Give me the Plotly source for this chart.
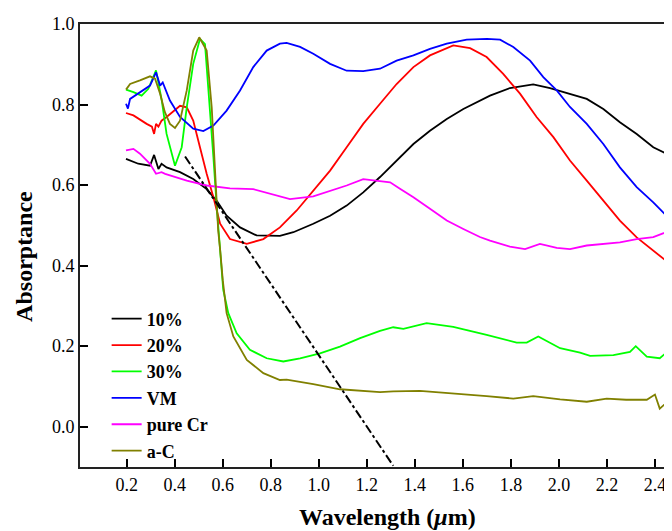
import plotly.graph_objects as go

# ---- data ----
x_10 = [0.197,0.248,0.297,0.314,0.332,0.345,0.366,0.422,0.477,0.533,0.575,0.616,0.672,0.741,0.838,0.894,0.977,1.047,1.116,1.185,1.255,1.324,1.394,1.463,1.533,1.602,1.671,1.713,1.796,1.893,1.963,2.046,2.116,2.185,2.254,2.324,2.393,2.440,2.450,2.455,2.463,2.471]
y_10 = [0.665,0.653,0.648,0.675,0.640,0.653,0.644,0.632,0.615,0.590,0.561,0.524,0.495,0.475,0.474,0.483,0.504,0.524,0.549,0.582,0.620,0.661,0.702,0.735,0.764,0.789,0.810,0.822,0.841,0.850,0.841,0.827,0.814,0.789,0.756,0.727,0.694,0.680,0.690,0.645,0.665,0.675]

x_20 = [0.197,0.228,0.283,0.305,0.314,0.322,0.332,0.345,0.366,0.422,0.450,0.477,0.505,0.533,0.561,0.589,0.630,0.700,0.769,0.838,0.908,0.977,1.047,1.116,1.185,1.255,1.324,1.394,1.463,1.560,1.630,1.699,1.768,1.838,1.907,1.977,2.046,2.116,2.185,2.254,2.324,2.393,2.440,2.463,2.471]
y_20 = [0.779,0.773,0.752,0.745,0.727,0.752,0.745,0.760,0.769,0.797,0.793,0.760,0.694,0.628,0.570,0.504,0.466,0.454,0.466,0.495,0.537,0.586,0.636,0.694,0.752,0.802,0.851,0.893,0.922,0.947,0.940,0.918,0.876,0.827,0.769,0.719,0.661,0.611,0.561,0.512,0.470,0.437,0.415,0.400,0.420]

x_30 = [0.197,0.228,0.262,0.290,0.322,0.346,0.366,0.401,0.429,0.450,0.477,0.505,0.526,0.547,0.561,0.575,0.589,0.602,0.623,0.658,0.713,0.783,0.852,0.922,1.005,1.088,1.172,1.255,1.310,1.352,1.449,1.560,1.699,1.824,1.866,1.914,2.005,2.088,2.130,2.227,2.296,2.320,2.366,2.420,2.450,2.471]
y_30 = [0.837,0.831,0.822,0.839,0.885,0.810,0.727,0.648,0.694,0.793,0.901,0.963,0.950,0.793,0.669,0.545,0.440,0.340,0.282,0.232,0.191,0.170,0.162,0.170,0.182,0.199,0.220,0.238,0.247,0.243,0.257,0.248,0.228,0.209,0.209,0.224,0.195,0.184,0.176,0.178,0.186,0.200,0.174,0.170,0.185,0.195]

x_vm = [0.197,0.205,0.214,0.255,0.297,0.322,0.339,0.350,0.380,0.422,0.477,0.519,0.561,0.616,0.672,0.727,0.783,0.838,0.866,0.922,0.977,1.047,1.116,1.185,1.255,1.324,1.394,1.463,1.533,1.616,1.700,1.755,1.810,1.880,1.935,1.991,2.046,2.116,2.185,2.254,2.324,2.393,2.440,2.463,2.471]
y_vm = [0.802,0.790,0.814,0.831,0.847,0.880,0.847,0.855,0.810,0.769,0.740,0.734,0.748,0.785,0.835,0.893,0.934,0.951,0.953,0.943,0.926,0.901,0.884,0.883,0.889,0.909,0.922,0.938,0.951,0.961,0.963,0.961,0.943,0.909,0.868,0.835,0.794,0.752,0.702,0.644,0.595,0.557,0.530,0.515,0.540]

x_cr = [0.197,0.228,0.255,0.297,0.322,0.345,0.360,0.380,0.450,0.533,0.630,0.727,0.810,0.880,0.977,1.047,1.116,1.185,1.241,1.297,1.338,1.394,1.463,1.533,1.602,1.671,1.713,1.796,1.859,1.921,1.991,2.046,2.116,2.185,2.254,2.324,2.393,2.463]
y_cr = [0.686,0.690,0.678,0.653,0.628,0.632,0.628,0.624,0.611,0.599,0.592,0.590,0.576,0.565,0.572,0.586,0.599,0.615,0.611,0.607,0.591,0.570,0.541,0.512,0.491,0.471,0.462,0.447,0.441,0.454,0.444,0.441,0.450,0.454,0.458,0.466,0.471,0.487]

x_ac = [0.197,0.214,0.255,0.297,0.318,0.339,0.359,0.380,0.401,0.422,0.450,0.477,0.502,0.533,0.554,0.568,0.581,0.589,0.600,0.616,0.644,0.700,0.769,0.838,0.866,0.977,1.088,1.255,1.310,1.421,1.560,1.699,1.810,1.893,2.005,2.116,2.199,2.280,2.366,2.400,2.420,2.449,2.471]
y_ac = [0.837,0.851,0.860,0.870,0.864,0.827,0.781,0.752,0.742,0.760,0.835,0.934,0.967,0.934,0.793,0.628,0.487,0.440,0.364,0.282,0.224,0.166,0.133,0.116,0.117,0.106,0.093,0.086,0.088,0.089,0.083,0.076,0.070,0.076,0.068,0.062,0.070,0.067,0.067,0.080,0.045,0.060,0.075]

x_fit = [0.443, 1.31]
y_fit = [0.671, -0.097]

series = [
    ("10%", x_10, y_10, "#000000"),
    ("20%", x_20, y_20, "#ff0000"),
    ("30%", x_30, y_30, "#00ff00"),
    ("VM", x_vm, y_vm, "#0000ff"),
    ("pure Cr", x_cr, y_cr, "#ff00ff"),
    ("a-C", x_ac, y_ac, "#808000"),
]

x_ticks = [0.2,0.4,0.6,0.8,1.0,1.2,1.4,1.6,1.8,2.0,2.2,2.4]
y_ticks = [0.0,0.2,0.4,0.6,0.8,1.0]
x_title = "Wavelength (<i>μ</i>m)"
y_title = "Absorptance"

SERIF = "Liberation Serif, Times New Roman, serif"

fig = go.Figure()
for name, xs, ys, col in series:
    fig.add_trace(go.Scatter(x=xs, y=ys, mode="lines", name=name,
                             line=dict(color=col, width=1.8)))
fig.add_trace(go.Scatter(x=x_fit, y=y_fit, mode="lines", showlegend=False,
                         line=dict(color="#000000", width=2, dash="dashdot")))

# page body has an 8px margin, so the figure is sized 664x523
fig.update_layout(
    width=664, height=523,
    margin=dict(l=72, r=0, t=16, b=64),
    paper_bgcolor="white", plot_bgcolor="white",
    font=dict(family=SERIF, color="#000000", size=18),
    legend=dict(x=0.045, y=0.376, xanchor="left", yanchor="top",
                bgcolor="rgba(0,0,0,0)",
                font=dict(family=SERIF, size=18, color="#000000", weight="bold"),
                tracegroupgap=0),
    xaxis=dict(range=[0.0054, 2.471], tickvals=x_ticks,
               ticktext=[f"{v:.1f}" for v in x_ticks],
               ticks="inside", ticklen=8, tickwidth=1.5, tickcolor="#000",
               showline=True, linecolor="#222", linewidth=2, mirror=True,
               showgrid=False, zeroline=False, automargin=False,
               tickfont=dict(family=SERIF, size=18)),
    yaxis=dict(range=[-0.1, 1.0], tickvals=y_ticks,
               ticktext=[f"{v:.1f}" for v in y_ticks],
               ticks="inside", ticklen=8, tickwidth=1.5, tickcolor="#000",
               showline=True, linecolor="#222", linewidth=2, mirror=False,
               showgrid=False, zeroline=False, automargin=False,
               tickfont=dict(family=SERIF, size=18)),
    annotations=[
        dict(text=x_title, xref="paper", yref="paper", x=0.52, y=-0.079,
             xanchor="center", yanchor="top", showarrow=False,
             font=dict(family=SERIF, size=24, weight="bold", color="#000")),
        dict(text=y_title, xref="paper", yref="paper", x=-0.095, y=0.476,
             xanchor="center", yanchor="middle", textangle=-90, showarrow=False,
             font=dict(family=SERIF, size=24, weight="bold", color="#000")),
    ],
)

fig.write_html("out.html")
